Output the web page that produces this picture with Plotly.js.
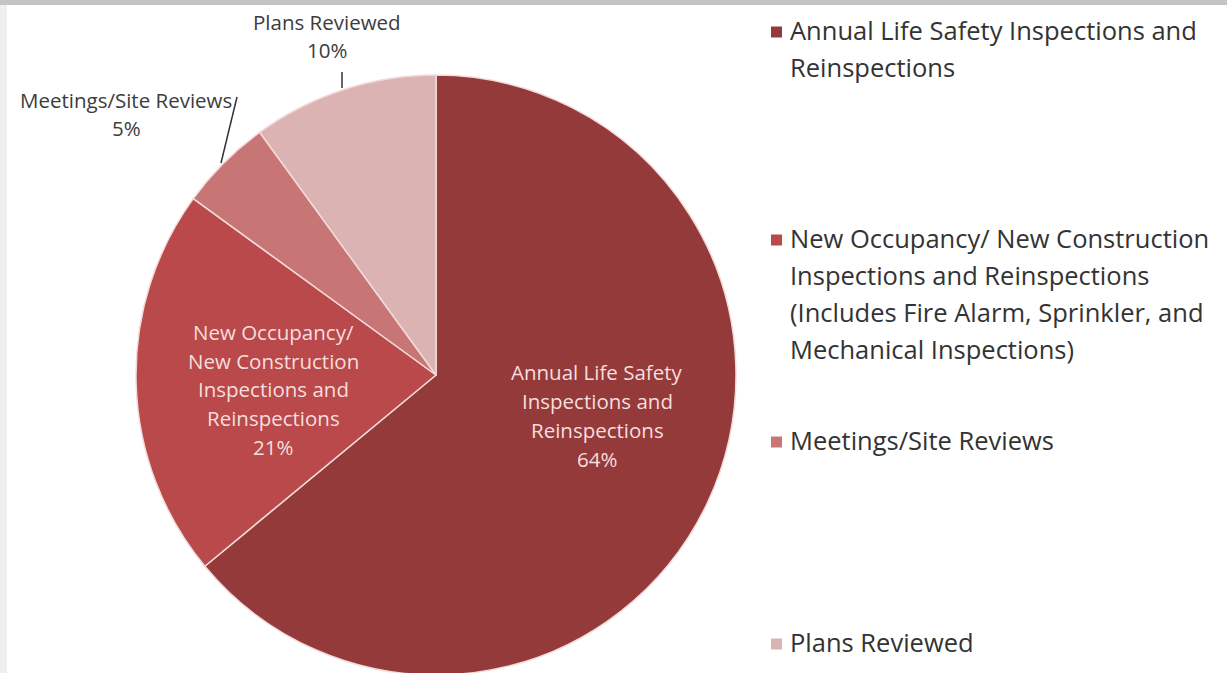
<!DOCTYPE html>
<html>
<head>
<meta charset="utf-8">
<script src="https://cdn.plot.ly/plotly-3.0.1.min.js"></script>
<style>
html,body{margin:0;padding:0;overflow:hidden;background:#ffffff;}
#chart{width:1227px;height:680px;}
</style>
</head>
<body>
<div id="chart"></div>
<script>
// ---- data ----
const categories = [
  "Annual Life Safety Inspections and Reinspections",
  "New Occupancy/ New Construction Inspections and Reinspections (Includes Fire Alarm, Sprinkler, and Mechanical Inspections)",
  "Meetings/Site Reviews",
  "Plans Reviewed"
];
const shares = [64, 21, 5, 10];
const legendLines = [
  ["Annual Life Safety Inspections and", "Reinspections"],
  ["New Occupancy/ New Construction", "Inspections and Reinspections", "(Includes Fire Alarm, Sprinkler, and", "Mechanical Inspections)"],
  ["Meetings/Site Reviews"],
  ["Plans Reviewed"]
];
const sliceLabelLines = [
  ["Annual Life Safety", "Inspections and", "Reinspections"],
  ["New Occupancy/", "New Construction", "Inspections and", "Reinspections"],
  ["Meetings/Site Reviews"],
  ["Plans Reviewed"]
];

// ---- styling / layout (not data) ----
const W = 1227, H = 680;
const sliceColors = ["#953a3a", "#b9494a", "#c87575", "#dcb3b3"];
const FONT = "'Open Sans', Lato, sans-serif";
const px = x => x / W;
const py = y => 1 - y / H;
const pieCenter = [436, 375], pieR = 300;

const labelPos = [
  {x: 597, y: 372, dy: 29, color: "#f6dede"},
  {x: 273, y: 332, dy: 28.7, color: "#f6dede"},
  {x: 126, y: 100, dy: 28, color: "#3c3c3c"},
  {x: 327, y: 22, dy: 28, color: "#3c3c3c"}
];
const legendFirstY = [30, 238, 440, 642];
const legendDy = 37;

const annotations = [];
const shapes = [];

// slice labels
sliceLabelLines.forEach((lines, i) => {
  const all = lines.concat([shares[i] + "%"]);
  const p = labelPos[i];
  all.forEach((t, k) => {
    annotations.push({
      xref: "paper", yref: "paper",
      x: px(p.x), y: py(p.y + k * p.dy),
      xanchor: "center", yanchor: "middle",
      text: t, showarrow: false,
      font: {family: FONT, size: 20.5, color: p.color}
    });
  });
});

// legend
legendLines.forEach((lines, i) => {
  lines.forEach((t, k) => {
    annotations.push({
      xref: "paper", yref: "paper",
      x: px(788), y: py(legendFirstY[i] + k * legendDy),
      xanchor: "left", yanchor: "middle",
      text: t, showarrow: false,
      font: {family: FONT, size: 25.5, color: "#333333"}
    });
  });
  const cy = legendFirstY[i] + 2;
  shapes.push({
    type: "rect", xref: "paper", yref: "paper",
    x0: px(771), x1: px(782), y0: py(cy - 5.5), y1: py(cy + 5.5),
    fillcolor: sliceColors[i], line: {width: 0}
  });
});

// leader lines
shapes.push({type: "line", xref: "paper", yref: "paper",
  x0: px(342), y0: py(72), x1: px(342), y1: py(88), line: {color: "#333333", width: 1.5}});
shapes.push({type: "line", xref: "paper", yref: "paper",
  x0: px(237), y0: py(97), x1: px(221), y1: py(163), line: {color: "#333333", width: 1.5}});

// frame bands
shapes.push({type: "rect", xref: "paper", yref: "paper", layer: "below",
  x0: 0, x1: px(7), y0: 0, y1: 1, fillcolor: "#efefef", line: {width: 0}});
shapes.push({type: "rect", xref: "paper", yref: "paper", layer: "below",
  x0: 0, x1: 1, y0: py(5), y1: 1, fillcolor: "#c4c4c4", line: {width: 0}});

const trace = {
  type: "pie",
  labels: categories,
  values: shares,
  sort: false,
  direction: "clockwise",
  rotation: 0,
  textinfo: "none",
  hoverinfo: "label+percent",
  marker: {colors: sliceColors, line: {color: "#f3dada", width: 1.5}},
  domain: {
    x: [px(pieCenter[0] - pieR), px(pieCenter[0] + pieR)],
    y: [py(pieCenter[1] + pieR), py(pieCenter[1] - pieR)]
  },
  showlegend: false
};

const layout = {
  width: W, height: H,
  margin: {l: 0, r: 0, t: 0, b: 0},
  paper_bgcolor: "#ffffff",
  showlegend: false,
  annotations: annotations,
  shapes: shapes,
  font: {family: FONT}
};

Plotly.newPlot("chart", [trace], layout, {displayModeBar: false, staticPlot: true});
</script>
</body>
</html>
